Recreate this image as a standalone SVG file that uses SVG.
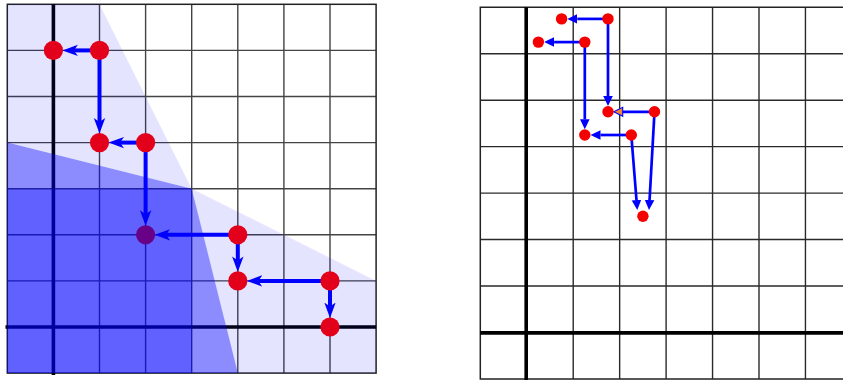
<svg xmlns="http://www.w3.org/2000/svg" width="843" height="380" viewBox="0 0 843 380">
<style>
.grid{stroke:#444;stroke-width:1.4;fill:none}
.gridR{stroke:#2a2a2a;stroke-width:1.4;fill:none}
.border{stroke:#222;stroke-width:1.5;fill:none}
.axis{stroke:#000;stroke-width:3.6}
.arrL{stroke:#0000ff;stroke-width:4;fill:none}
.arrR{stroke:#0000ff;stroke-width:2.7;fill:none}
.nodeL{fill:#e3001b}
.nodeR{fill:#f50000}
</style>
<defs>
<marker id="hl" markerUnits="userSpaceOnUse" markerWidth="20" markerHeight="14" viewBox="0 -7 20 14" refX="4" refY="0" orient="auto">
<path d="M0,-5.7 L15.5,0 L0,5.7 L4,0 Z" fill="#0000ff"/>
</marker>
<marker id="hr" markerUnits="userSpaceOnUse" markerWidth="12" markerHeight="12" viewBox="0 -6 12 12" refX="0" refY="0" orient="auto">
<path d="M0,-4.8 L10,0 L0,4.8 Z" fill="#0000ff"/>
</marker>
<marker id="ho" markerUnits="userSpaceOnUse" markerWidth="14" markerHeight="14" viewBox="-2 -7 14 14" refX="0" refY="0" orient="auto">
<path d="M0,-4.5 L9,0 L0,4.5 Z" fill="#ee8a3a" stroke="#0000ff" stroke-width="1.1"/>
</marker>
</defs>
<rect width="843" height="380" fill="#fff"/>
<g id="left-grid">
<path class="grid" d="M99.5,4.3V373.1M145.6,4.3V373.1M191.7,4.3V373.1M237.8,4.3V373.1M283.9,4.3V373.1M330,4.3V373.1M7.3,50.4H376.1M7.3,96.5H376.1M7.3,142.6H376.1M7.3,188.7H376.1M7.3,234.8H376.1M7.3,280.9H376.1"/>
<rect class="border" x="7.3" y="4.3" width="368.8" height="368.8"/>
<line class="axis" x1="53.4" y1="4.3" x2="53.4" y2="375"/>
<line class="axis" x1="5.5" y1="327" x2="376.1" y2="327"/>
</g>
<g id="regions">
<polygon points="7.3,4.3 99.5,4.3 191.7,188.7 376.1,280.9 376.1,373.1 7.3,373.1" fill="#0000ff" fill-opacity="0.105"/>
<polygon points="7.3,142.6 191.7,188.7 237.8,373.1 7.3,373.1" fill="#0000ff" fill-opacity="0.386"/>
<rect x="7.3" y="188.7" width="184.4" height="184.4" fill="#0000ff" fill-opacity="0.3"/>
</g>
<g id="right-grid">
<path class="gridR" d="M573.2,7.3V378.9M619.65,7.3V378.9M666.1,7.3V378.9M712.55,7.3V378.9M759,7.3V378.9M805.45,7.3V378.9M480.3,53.75H843M480.3,100.2H843M480.3,146.65H843M480.3,193.1H843M480.3,239.55H843M480.3,286H843"/>
<path class="border" d="M843,7.3H480.3V378.9H843"/>
<line class="axis" x1="526.2" y1="7.3" x2="526.2" y2="380"/>
<line class="axis" x1="480.3" y1="332.9" x2="843" y2="332.9"/>
</g>
<g id="connectors">
<line class="arrL" x1="99.5" y1="50.4" x2="73.9" y2="50.4" marker-end="url(#hl)"/>
<line class="arrL" x1="99.5" y1="50.4" x2="99.5" y2="122.1" marker-end="url(#hl)"/>
<line class="arrL" x1="145.6" y1="142.6" x2="120" y2="142.6" marker-end="url(#hl)"/>
<line class="arrL" x1="145.6" y1="142.6" x2="145.6" y2="214.3" marker-end="url(#hl)"/>
<line class="arrL" x1="237.8" y1="234.8" x2="166.1" y2="234.8" marker-end="url(#hl)"/>
<line class="arrL" x1="237.8" y1="234.8" x2="237.8" y2="260.4" marker-end="url(#hl)"/>
<line class="arrL" x1="330" y1="280.9" x2="258.3" y2="280.9" marker-end="url(#hl)"/>
<line class="arrL" x1="330" y1="280.9" x2="330" y2="306.5" marker-end="url(#hl)"/>
<line class="arrR" x1="608" y1="18.9" x2="577.3" y2="18.9" marker-end="url(#hr)"/>
<line class="arrR" x1="608" y1="18.9" x2="608" y2="96.1" marker-end="url(#hr)"/>
<line class="arrR" x1="584.8" y1="42.1" x2="554.1" y2="42.1" marker-end="url(#hr)"/>
<line class="arrR" x1="584.8" y1="42.1" x2="584.8" y2="119.3" marker-end="url(#hr)"/>
<line class="arrR" x1="654.5" y1="111.8" x2="622.7" y2="111.8" marker-end="url(#ho)"/>
<line class="arrR" x1="631.3" y1="135" x2="600.5" y2="135" marker-end="url(#hr)"/>
<line class="arrR" x1="631.3" y1="135" x2="636.5" y2="200" marker-end="url(#hr)"/>
<line class="arrR" x1="654.5" y1="111.8" x2="649.56" y2="200" marker-end="url(#hr)"/>
</g>
<g id="n-l1"><circle class="nodeL" cx="53.4" cy="50.4" r="9.6"/></g>
<g id="n-l2"><circle class="nodeL" cx="99.5" cy="50.4" r="9.6"/></g>
<g id="n-l3"><circle class="nodeL" cx="99.5" cy="142.6" r="9.6"/></g>
<g id="n-l4"><circle class="nodeL" cx="145.6" cy="142.6" r="9.6"/></g>
<g id="n-l5"><circle cx="145.6" cy="234.8" r="9.6" fill="#680088"/></g>
<g id="n-l6"><circle class="nodeL" cx="237.8" cy="234.8" r="9.6"/></g>
<g id="n-l7"><circle class="nodeL" cx="237.8" cy="280.9" r="9.6"/></g>
<g id="n-l8"><circle class="nodeL" cx="330" cy="280.9" r="9.6"/></g>
<g id="n-l9"><circle class="nodeL" cx="330" cy="327" r="9.6"/></g>
<g id="n-rA"><circle class="nodeR" cx="561.6" cy="18.9" r="5.7"/></g>
<g id="n-rB"><circle class="nodeR" cx="608" cy="18.9" r="5.7"/></g>
<g id="n-rC"><circle class="nodeR" cx="538.4" cy="42.1" r="5.7"/></g>
<g id="n-rD"><circle class="nodeR" cx="584.8" cy="42.1" r="5.7"/></g>
<g id="n-rE"><circle class="nodeR" cx="608" cy="111.8" r="5.7"/></g>
<g id="n-rF"><circle class="nodeR" cx="654.5" cy="111.8" r="5.7"/></g>
<g id="n-rG"><circle class="nodeR" cx="584.8" cy="135" r="5.7"/></g>
<g id="n-rH"><circle class="nodeR" cx="631.3" cy="135" r="5.7"/></g>
<g id="n-rI"><circle class="nodeR" cx="642.9" cy="216.3" r="5.7"/></g>
</svg>
